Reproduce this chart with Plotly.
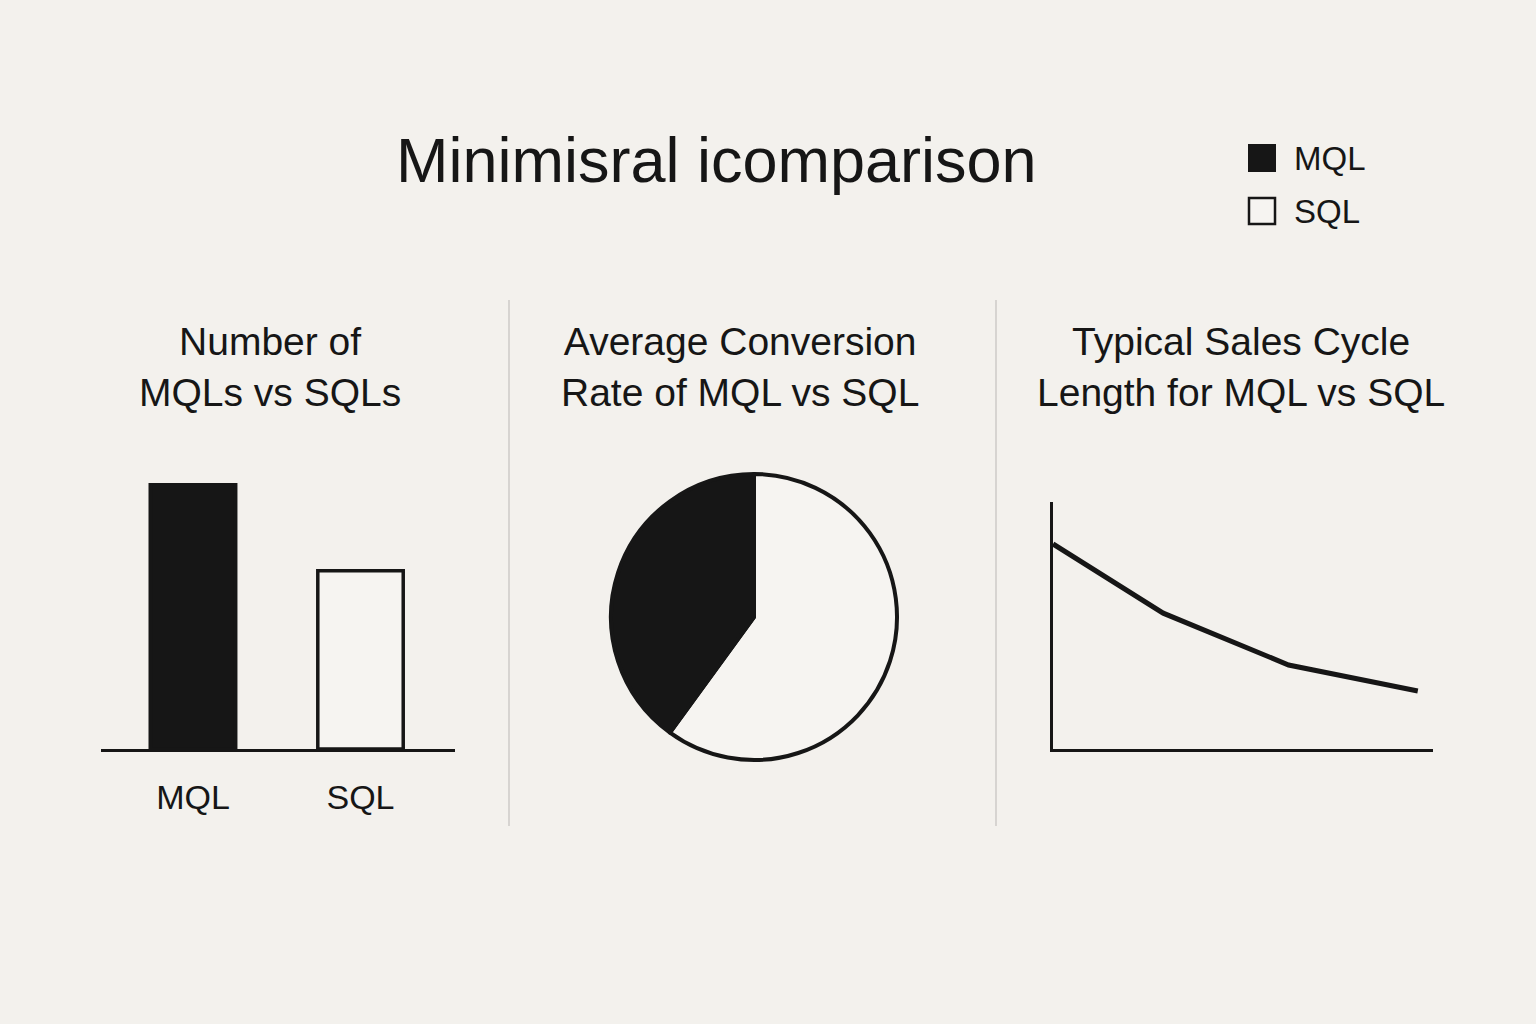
import plotly.graph_objects as go

# ---- data ----
categories = ["MQL", "SQL"]
lead_counts = [100, 67]            # Number of MQLs vs SQLs (relative)
conversion_share = [40, 60]        # Average conversion rate split
cycle_x = [0, 29, 62, 96]          # Sales cycle progression
cycle_y = [83, 55, 34, 23.5]       # Typical sales cycle length

title_text = "Minimisral icomparison"
subtitles = ["Number of<br>MQLs vs SQLs",
             "Average Conversion<br>Rate of MQL vs SQL",
             "Typical Sales Cycle<br>Length for MQL vs SQL"]

BG = "#f3f1ed"
INK = "#161616"
LIGHT = "#f6f4f1"
FONT = "Liberation Sans, Arial, Helvetica, sans-serif"
W, H = 1536, 1024


def px(x):
    return x / W


def py(y):
    return (H - y) / H


fig = go.Figure()

# ---- panel 1: bar chart ----
fig.add_trace(go.Bar(
    x=categories, y=lead_counts, width=0.51,
    marker=dict(color=[INK, LIGHT], line=dict(color=INK, width=3.5)),
    xaxis="x", yaxis="y", showlegend=False, hoverinfo="x+y"))

# ---- panel 2: pie (SQL drawn first clockwise from 12 o'clock so MQL sits on the left) ----
cx, cy, r = 754, 617, 143
fig.add_trace(go.Pie(
    labels=categories[::-1], values=conversion_share[::-1], sort=False,
    direction="clockwise", rotation=0,
    marker=dict(colors=[LIGHT, INK], line=dict(color=INK, width=4)),
    textinfo="none", showlegend=False,
    domain=dict(x=[px(cx - r), px(cx + r)], y=[py(cy + r), py(cy - r)])))

# ---- panel 3: line ----
fig.add_trace(go.Scatter(
    x=cycle_x, y=cycle_y, mode="lines",
    line=dict(color=INK, width=5),
    xaxis="x2", yaxis="y2", showlegend=False))

fig.update_layout(
    width=W, height=H,
    margin=dict(l=0, r=0, t=0, b=0),
    paper_bgcolor=BG, plot_bgcolor=BG,
    font=dict(family=FONT, color=INK),
    xaxis=dict(domain=[px(101), px(455)], range=[-0.549, 1.564],
               showline=True, linecolor=INK, linewidth=3,
               showgrid=False, zeroline=False, ticks="",
               tickfont=dict(size=34, color=INK, family=FONT),
               ticklabelstandoff=16, fixedrange=True),
    yaxis=dict(domain=[py(749), py(483)], range=[0, 100],
               showline=False, showgrid=False, zeroline=False,
               showticklabels=False, fixedrange=True),
    xaxis2=dict(domain=[px(1053), px(1433)], range=[0, 100],
                showline=True, linecolor=INK, linewidth=3,
                showgrid=False, zeroline=False, showticklabels=False,
                anchor="y2", fixedrange=True),
    yaxis2=dict(domain=[py(749), py(502)], range=[0, 100],
                showline=True, linecolor=INK, linewidth=3,
                showgrid=False, zeroline=False, showticklabels=False,
                anchor="x2", fixedrange=True),
)

annotations = [
    dict(text=title_text, x=px(716), y=py(160), xref="paper", yref="paper",
         xanchor="center", yanchor="middle", showarrow=False,
         font=dict(size=63, color=INK, family=FONT)),
]
for cxp, t in zip([270, 740, 1241], subtitles):
    annotations.append(dict(text=t, x=px(cxp), y=py(367), xref="paper", yref="paper",
                            xanchor="center", yanchor="middle", showarrow=False,
                            font=dict(size=39, color=INK, family=FONT)))
# legend labels
for lab, ly in zip(categories, [158, 211]):
    annotations.append(dict(text=lab, x=px(1292), y=py(ly), xref="paper", yref="paper",
                            xanchor="left", yanchor="middle", showarrow=False,
                            font=dict(size=33, color=INK, family=FONT)))
fig.update_layout(annotations=annotations)

shapes = []
# separators
for sx in [509, 996]:
    shapes.append(dict(type="line", xref="paper", yref="paper",
                       x0=px(sx), x1=px(sx), y0=py(300), y1=py(826),
                       line=dict(color="#c4c2be", width=1.2)))
# legend swatches
shapes.append(dict(type="rect", xref="paper", yref="paper",
                   x0=px(1249), x1=px(1275), y0=py(171), y1=py(145),
                   fillcolor=INK, line=dict(color=INK, width=2)))
shapes.append(dict(type="rect", xref="paper", yref="paper",
                   x0=px(1249), x1=px(1275), y0=py(224), y1=py(198),
                   fillcolor=LIGHT, line=dict(color=INK, width=2.5)))
fig.update_layout(shapes=shapes)

fig.write_html("out.html", config={"displayModeBar": False})

# remove the default page margin so the figure fills the window exactly
with open("out.html", "r", encoding="utf-8") as f:
    html = f.read()
html = html.replace("<head>", "<head><style>html,body{margin:0;padding:0;background:%s;}</style>" % BG, 1)
with open("out.html", "w", encoding="utf-8") as f:
    f.write(html)
